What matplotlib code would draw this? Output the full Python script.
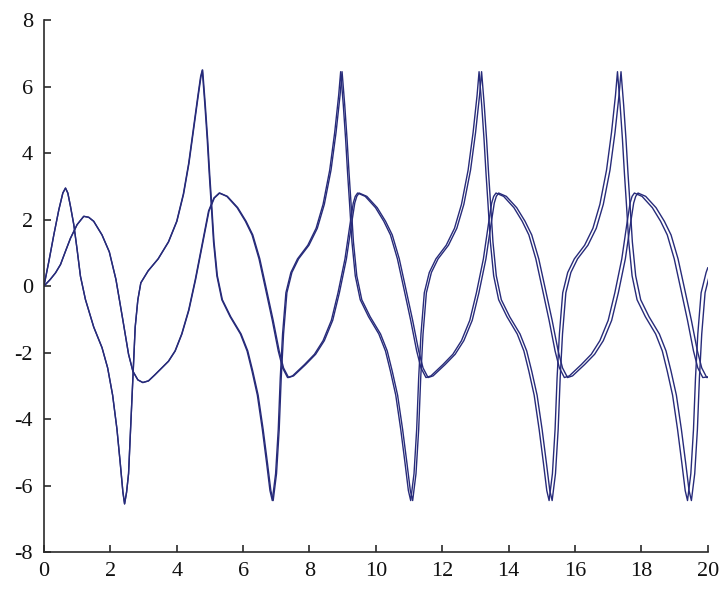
import numpy as np
import matplotlib
matplotlib.use("Agg")
import matplotlib.pyplot as plt

plt.rcParams['axes.unicode_minus'] = False
plt.rcParams['font.family'] = ['Liberation Serif', 'DejaVu Serif']

# Curve A (large amplitude, peaks about +/-6.5)
tA = [0, 0.15, 0.3, 0.45, 0.57, 0.65, 0.72, 0.8, 0.9, 1.0, 1.1, 1.25, 1.5, 1.75, 1.92, 2.07, 2.2, 2.3, 2.38,
      2.43, 2.49, 2.55, 2.61, 2.68, 2.75, 2.83, 2.92, 3.14, 3.44, 3.75, 4.0, 4.2, 4.36, 4.5, 4.64, 4.72,
      4.77, 4.85, 4.92, 4.98, 5.04, 5.11, 5.21, 5.36, 5.61, 5.92, 6.12, 6.27, 6.43, 6.58, 6.71, 6.81,
      6.88, 6.98, 7.06, 7.12, 7.19, 7.29, 7.44, 7.64, 7.95, 8.20, 8.41, 8.61, 8.76, 8.88,
      8.94, 9.02, 9.09, 9.15, 9.21, 9.28, 9.38, 9.53, 9.78, 10.09, 10.29, 10.44, 10.60, 10.75, 10.88, 10.98,
      11.05, 11.15, 11.23, 11.29, 11.36, 11.46, 11.61, 11.81, 12.12, 12.37, 12.58, 12.78, 12.93, 13.05,
      13.11, 13.19, 13.26, 13.32, 13.38, 13.45, 13.55, 13.70, 13.95, 14.26, 14.46, 14.61, 14.77, 14.92, 15.05, 15.15,
      15.22, 15.32, 15.40, 15.46, 15.53, 15.63, 15.78, 15.98, 16.29, 16.54, 16.75, 16.95, 17.10, 17.22,
      17.28, 17.36, 17.43, 17.49, 17.55, 17.62, 17.72, 17.87, 18.12, 18.43, 18.63, 18.78, 18.94, 19.09, 19.22, 19.32,
      19.39, 19.49, 19.57, 19.63, 19.70, 19.80, 19.95, 20.0]
yA = [0, 0.75, 1.55, 2.3, 2.8, 2.95, 2.8, 2.4, 1.85, 1.1, 0.3, -0.4, -1.23, -1.85, -2.46, -3.28, -4.3, -5.33, -6.2,
      -6.55, -6.2, -5.64, -4.3, -2.77, -1.23, -0.41, 0.1, 0.46, 0.82, 1.33, 1.95, 2.77, 3.69, 4.72, 5.74, 6.3,
      6.5, 5.44, 4.41, 3.38, 2.46, 1.33, 0.31, -0.41, -0.92, -1.44, -1.95, -2.56, -3.28, -4.31, -5.33, -6.15,
      -6.45, -5.64, -4.31, -2.77, -1.44, -0.2, 0.41, 0.82, 1.23, 1.74, 2.46, 3.49, 4.62, 5.74,
      6.45, 5.44, 4.41, 3.38, 2.46, 1.33, 0.31, -0.41, -0.92, -1.44, -1.95, -2.56, -3.28, -4.31, -5.33, -6.15,
      -6.45, -5.64, -4.31, -2.77, -1.44, -0.2, 0.41, 0.82, 1.23, 1.74, 2.46, 3.49, 4.62, 5.74,
      6.45, 5.44, 4.41, 3.38, 2.46, 1.33, 0.31, -0.41, -0.92, -1.44, -1.95, -2.56, -3.28, -4.31, -5.33, -6.15,
      -6.45, -5.64, -4.31, -2.77, -1.44, -0.2, 0.41, 0.82, 1.23, 1.74, 2.46, 3.49, 4.62, 5.74,
      6.45, 5.44, 4.41, 3.38, 2.46, 1.33, 0.31, -0.41, -0.92, -1.44, -1.95, -2.56, -3.28, -4.31, -5.33, -6.15,
      -6.45, -5.64, -4.31, -2.77, -1.44, -0.2, 0.41, 0.55]

# Curve B (smaller amplitude, about +/-2.8)
tB = [0, 0.19, 0.35, 0.5, 0.65, 0.8, 1.0, 1.2, 1.35, 1.5, 1.75, 1.97, 2.17, 2.38, 2.55, 2.68, 2.83, 2.98, 3.15,
      3.34, 3.75, 3.95, 4.15, 4.36, 4.56, 4.76, 4.96, 5.12,
      5.28, 5.51, 5.82, 6.07, 6.27, 6.48, 6.68, 6.88, 7.06, 7.19, 7.34, 7.49, 7.85, 8.15, 8.41, 8.66, 8.86,
      9.07, 9.22, 9.32, 9.38,
      9.45, 9.68, 9.99, 10.24, 10.44, 10.65, 10.85, 11.05, 11.23, 11.36, 11.51, 11.66, 12.02, 12.32, 12.58,
      12.83, 13.03, 13.24, 13.39, 13.49, 13.55,
      13.62, 13.85, 14.16, 14.41, 14.61, 14.82, 15.02, 15.22, 15.40, 15.53, 15.68, 15.83, 16.19, 16.49, 16.75,
      17.00, 17.20, 17.41, 17.56, 17.66, 17.72,
      17.79, 18.02, 18.33, 18.58, 18.78, 18.99, 19.19, 19.39, 19.57, 19.70, 19.85, 20.0]
yB = [0, 0.2, 0.4, 0.65, 1.05, 1.44, 1.85, 2.1, 2.07, 1.95, 1.54, 1.03, 0.2, -1.03, -2.05, -2.56, -2.82, -2.9, -2.85,
      -2.67, -2.26, -1.95, -1.44, -0.72, 0.2, 1.23, 2.26, 2.65,
      2.8, 2.7, 2.36, 1.95, 1.54, 0.82, -0.1, -1.03, -1.95, -2.46, -2.75, -2.7, -2.36, -2.05, -1.64, -1.03, -0.2,
      0.82, 1.85, 2.5, 2.7,
      2.8, 2.7, 2.36, 1.95, 1.54, 0.82, -0.1, -1.03, -1.95, -2.46, -2.75, -2.7, -2.36, -2.05, -1.64,
      -1.03, -0.2, 0.82, 1.85, 2.5, 2.7,
      2.8, 2.7, 2.36, 1.95, 1.54, 0.82, -0.1, -1.03, -1.95, -2.46, -2.75, -2.7, -2.36, -2.05, -1.64,
      -1.03, -0.2, 0.82, 1.85, 2.5, 2.7,
      2.8, 2.7, 2.36, 1.95, 1.54, 0.82, -0.1, -1.03, -1.95, -2.46, -2.75, -2.73]

# time lag of the second (slave) trajectory relative to the first, read at a few times
lag_t = [0, 3, 8, 13, 17, 20]
lag_v = [0.0, 0.0, 0.035, 0.075, 0.105, 0.12]

xticks = [0, 2, 4, 6, 8, 10, 12, 14, 16, 18, 20]
yticks = [-8, -6, -4, -2, 0, 2, 4, 6, 8]

color = '#272b7a'

fig = plt.figure(figsize=(7.2, 5.93), dpi=100)
ax = fig.add_axes([0.061, 0.069, 0.922, 0.897])

tA_arr = np.array(tA)
tB_arr = np.array(tB)
ax.plot(tA_arr, yA, color=color, lw=1.0)
ax.plot(tA_arr + np.interp(tA_arr, lag_t, lag_v), yA, color=color, lw=1.0)
ax.plot(tB_arr, yB, color=color, lw=1.0)
ax.plot(tB_arr + np.interp(tB_arr, lag_t, lag_v), yB, color=color, lw=1.0)

ax.set_xlim(0, 20)
ax.set_ylim(-8, 8)
ax.set_xticks(xticks)
ax.set_yticks(yticks)
ax.set_xticklabels([str(v) for v in xticks])
ax.set_yticklabels([str(v) for v in yticks])
for s in ['top', 'right']:
    ax.spines[s].set_visible(False)
for s in ['left', 'bottom']:
    ax.spines[s].set_color('#2a2a2a')
    ax.spines[s].set_linewidth(1.2)
ax.tick_params(direction='in', length=5, width=1.2, color='#2a2a2a', labelsize=16, labelcolor='#111111')
ax.tick_params(axis='x', pad=7)
ax.tick_params(axis='y', pad=8)

fig.savefig('out.png', dpi=100)
